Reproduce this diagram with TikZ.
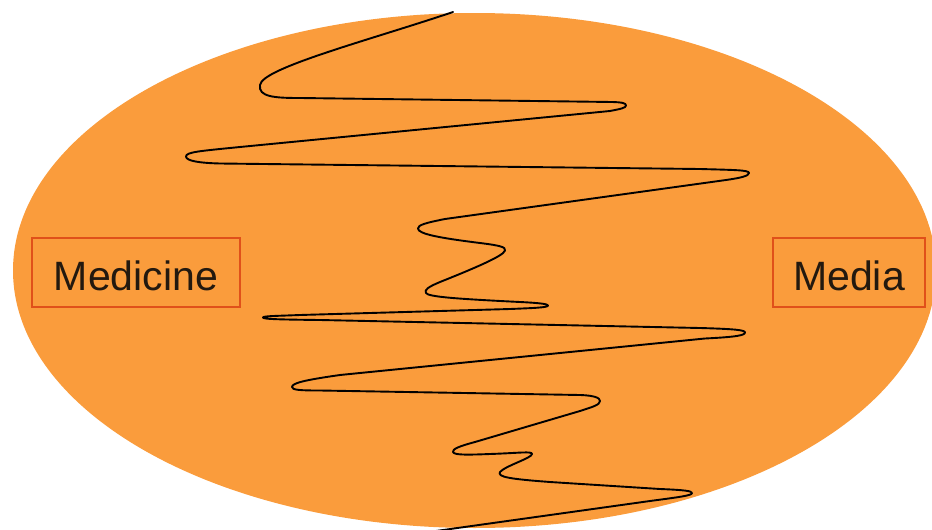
\documentclass[tikz,border=0pt]{standalone}
\usepackage{fontspec}
\setmainfont{Liberation Sans}
\definecolor{orangefill}{RGB}{250,156,60}
\definecolor{boxline}{RGB}{224,80,26}
\definecolor{textdark}{RGB}{35,25,15}
\begin{document}
\begin{tikzpicture}[x=1pt,y=-1pt,
  labelbox/.style={draw=boxline, line width=1.5pt, fill=orangefill, inner sep=0pt,
    text=textdark, font=\fontsize{41}{48}\selectfont, text height=35pt, text depth=0pt,
    minimum height=69pt},
  wave/.style={draw=black, line width=1.9pt, line join=round, line cap=round}]
\path[use as bounding box] (0,0) rectangle (932,530);
\clip (0,0) rectangle (932,530);
\fill[orangefill] (474.5,270.5) ellipse [x radius=461.5, y radius=257.5];

\node[labelbox, minimum width=208pt] (medicine) at (136,272.5) {Medicine};
\node[labelbox, minimum width=152pt] (media) at (849,272.5) {Media};

\draw[wave]
  (453,12) .. controls (370,40) and (262,68) .. (260,85)
  .. controls (258,97) and (275,98) .. (300,98)
  -- (612,102)
  .. controls (622,102.3) and (626,103) .. (626,105.5)
  .. controls (626,108) and (620,109) .. (610,111)
  -- (240,147)
  .. controls (200,151) and (186,152) .. (186,156.5)
  .. controls (186,161) and (200,163) .. (220,163.5)
  -- (700,169)
  .. controls (735,170) and (749,170) .. (749,173)
  .. controls (749,176) and (740,178) .. (726,180)
  -- (445,219)
  .. controls (425,223) and (418,225) .. (418,228.5)
  .. controls (418,234) and (440,238) .. (480,243)
  .. controls (500,245.5) and (506,247) .. (505,250.5)
  .. controls (504,256) and (470,270) .. (440,282)
  .. controls (428,287) and (424,290) .. (426,293)
  .. controls (428,297) and (460,299) .. (520,302)
  .. controls (540,303) and (548,304) .. (548,305.5)
  .. controls (548,307.5) and (535,308) .. (510,309)
  -- (300,315)
  .. controls (275,316) and (263,316) .. (263,317.5)
  .. controls (263,319) and (275,319.5) .. (320,320)
  -- (700,328)
  .. controls (735,329) and (745,330) .. (745,332.5)
  .. controls (745,335.5) and (735,337) .. (705,338.5)
  -- (340,375)
  .. controls (305,380) and (292,383) .. (292,387)
  .. controls (292,390) and (300,390.5) .. (320,390.5)
  -- (580,395)
  .. controls (595,395.5) and (600,398) .. (600,401)
  .. controls (600,405) and (592,407) .. (580,411)
  -- (475,442)
  .. controls (460,446) and (452,449) .. (453,452)
  .. controls (454,455) and (465,455) .. (490,454)
  .. controls (520,453) and (532,451) .. (532,454)
  .. controls (532,458) and (505,466) .. (500,472)
  .. controls (497,477) and (510,479) .. (550,482)
  -- (660,489)
  .. controls (685,490) and (692,491) .. (692,493)
  .. controls (692,495.5) and (680,497) .. (650,501)
  -- (436,531);
\end{tikzpicture}
\end{document}
